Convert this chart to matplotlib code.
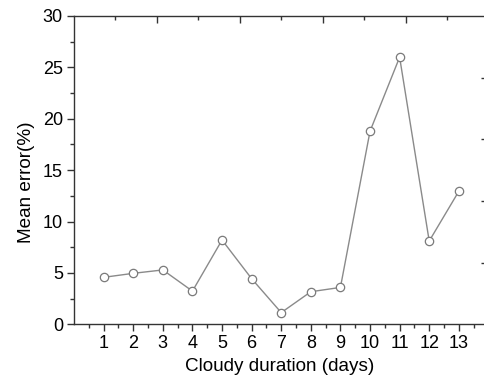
import matplotlib
matplotlib.use("Agg")
import matplotlib.pyplot as plt
import numpy as np

plt.rcParams['font.family'] = ['Liberation Sans', 'DejaVu Sans']

days = [1, 2, 3, 4, 5, 6, 7, 8, 9, 10, 11, 12, 13]
mean_error = [4.57, 4.96, 5.29, 3.23, 8.2, 4.44, 1.14, 3.17, 3.59, 18.78, 25.98, 8.1, 12.94]

fig = plt.figure(figsize=(4.84, 3.78), dpi=100)
ax = fig.add_axes([0.153, 0.142, 0.85, 0.816])
ax.plot(days, mean_error, '-o', color='#8a8a8a', lw=1.0, ms=6.0,
        mfc='white', mec='#7a7a7a', mew=0.9)

ax.set_xlim(0, 13.9)
ax.set_ylim(0, 30)
ax.set_xticks(days)
ax.set_xticks(np.arange(0.5, 14, 1), minor=True)
ax.set_yticks(np.arange(0, 31, 5))
ax.set_yticks(np.arange(2.5, 30, 5), minor=True)
ax.tick_params(axis='both', which='major', direction='out', length=5, width=1,
               color='#333333', labelsize=13, pad=3)
ax.tick_params(axis='both', which='minor', direction='out', length=3, width=1,
               color='#333333')
ax.spines['right'].set_visible(False)
for s in ['left', 'bottom', 'top']:
    ax.spines[s].set_color('#333333')
    ax.spines[s].set_linewidth(1.0)
ax.set_xlabel('Cloudy duration (days)', fontsize=13.6, labelpad=4)
ax.set_ylabel('Mean error(%)', fontsize=13.6)
ax.yaxis.set_label_coords(-0.094, 0.46)

# top ticks (different spacing, no labels)
top = ax.twiny()
top.set_xlim(ax.get_xlim())
top.set_xticks(np.arange(2.8, 13.9, 2.8))
top.set_xticks(np.arange(1.4, 13.9, 2.8), minor=True)
top.tick_params(axis='x', which='major', direction='in', length=5, width=1,
                color='#333333', labeltop=False)
top.tick_params(axis='x', which='minor', direction='in', length=3, width=1,
                color='#333333')
for s in top.spines.values():
    s.set_visible(False)

# right ticks only
right = ax.twinx()
right.set_ylim(ax.get_ylim())
right.set_yticks([6, 12, 18, 24])
right.tick_params(axis='y', which='major', direction='in', length=3, width=1,
                  color='#333333', labelright=False)
for s in right.spines.values():
    s.set_visible(False)

fig.savefig('out.png', dpi=100)
